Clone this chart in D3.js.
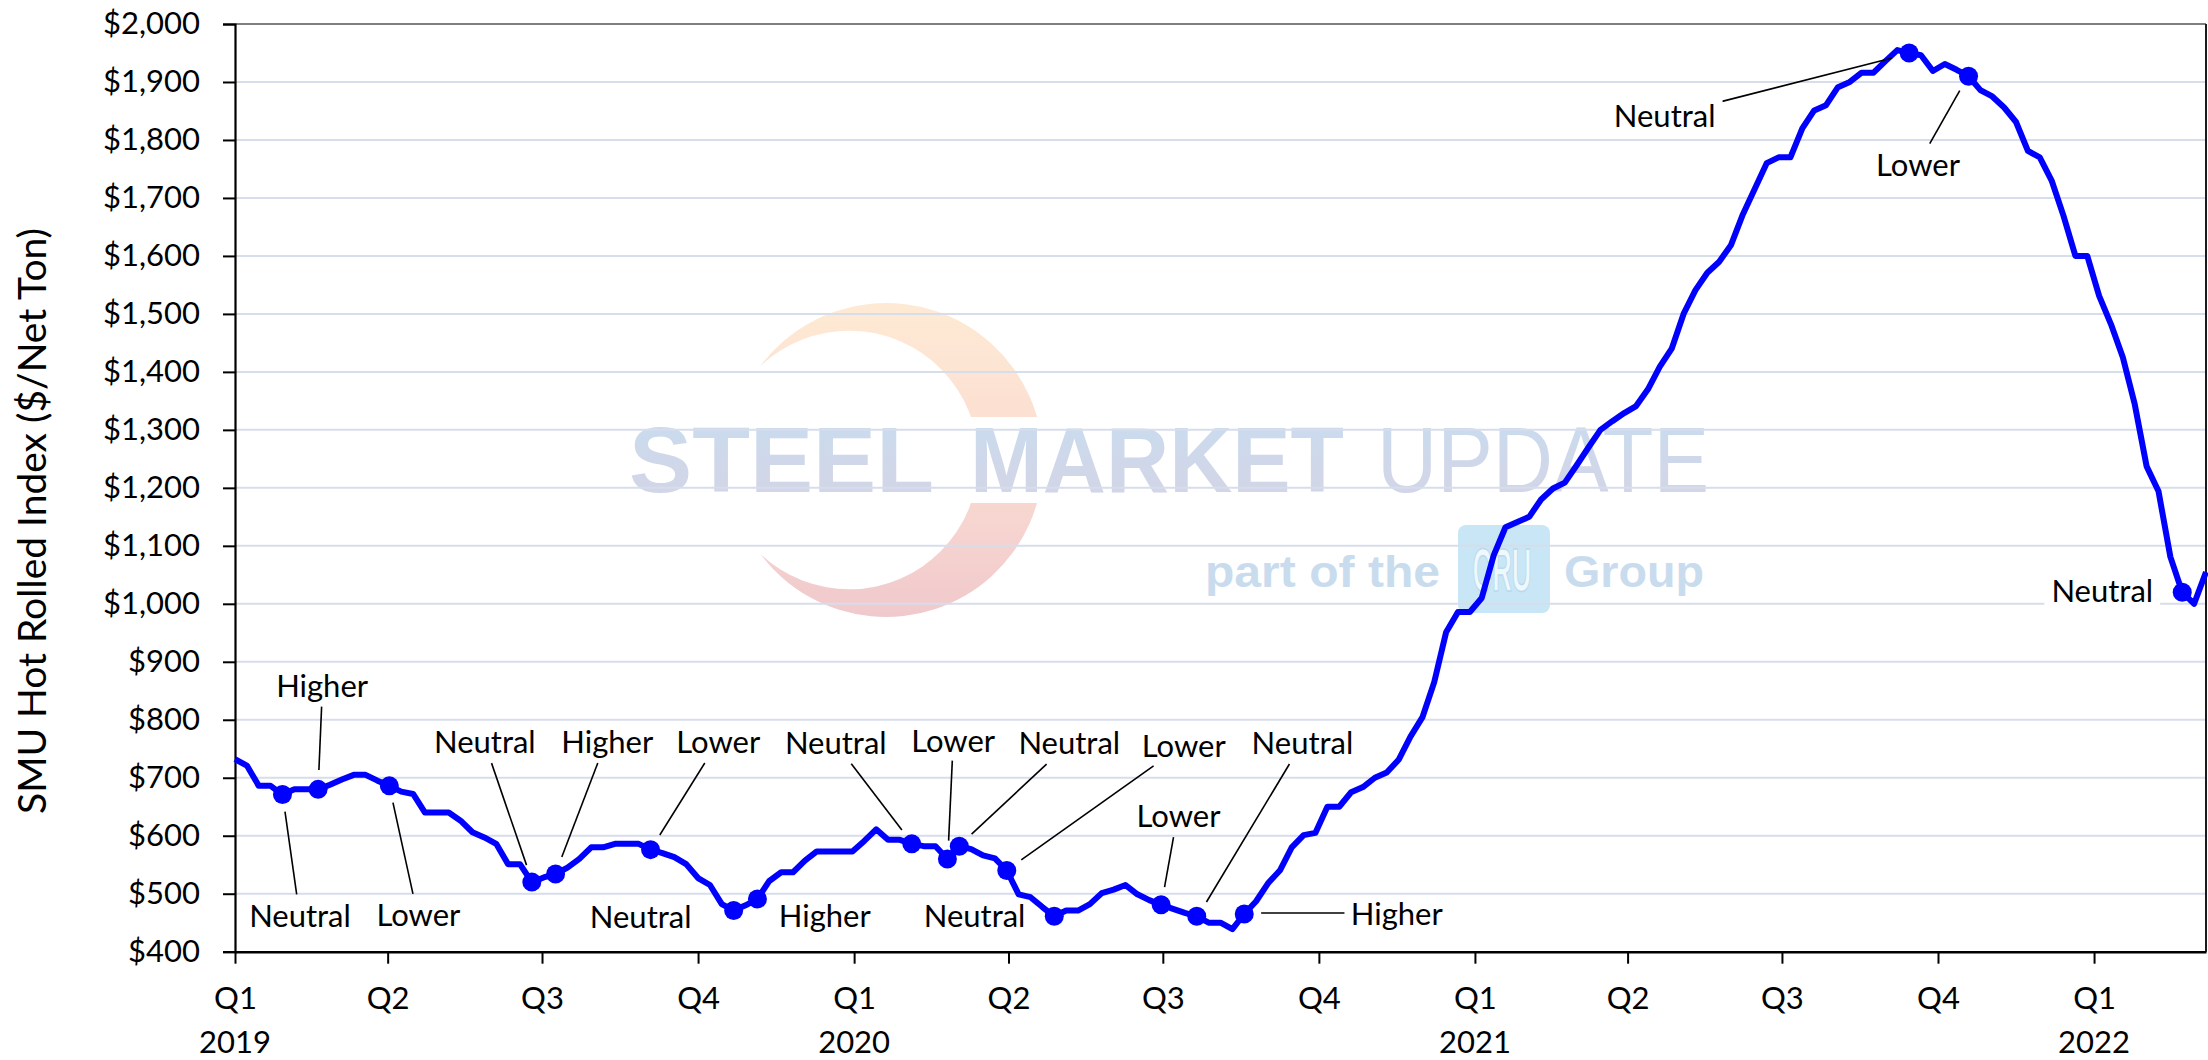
<!DOCTYPE html>
<html><head><meta charset="utf-8">
<script src="https://cdn.jsdelivr.net/npm/d3@7"></script>
<style>body{margin:0;background:#fff}svg{display:block}</style>
</head><body>
<svg id="chart" width="2208" height="1060"></svg>
<script>
// ---------------- DATA ----------------
const firstWeek = "2019-01-01";           // weekly observations (every 7 days)
const hrcIndex = [
 732,721,686,686,671,680,680,680,688,697,705,705,695,686,676,672,640,640,640,626,
 606,597,586,551,551,520,528,534,545,560,580,580,586,586,586,576,570,563,551,527,
 515,482,471,480,491,522,537,537,557,573,573,573,573,591,611,593,593,586,582,582,
 560,582,577,566,561,540,499,494,477,461,471,471,482,501,507,515,499,489,481,474,
 467,461,450,450,439,465,487,518,540,580,601,605,650,650,675,684,700,709,731,771,
 804,865,951,986,986,1010,1083,1132,1141,1150,1180,1199,1209,1239,1270,1300,1315,1329,1341,1370,
 1409,1440,1500,1541,1571,1590,1619,1672,1716,1760,1770,1770,1820,1851,1860,1891,1900,1916,1916,1936,
 1955,1950,1946,1919,1931,1921,1910,1886,1875,1856,1831,1781,1770,1730,1669,1600,1600,1531,1482,1425,
 1344,1237,1194,1081,1020,1000,1055
];
const yTickValues = [400,500,600,700,800,900,1000,1100,1200,1300,1400,1500,1600,1700,1800,1900,2000];
const quarterTickDates = ["2019-01-01","2019-04-01","2019-07-01","2019-10-01","2020-01-01","2020-04-01","2020-07-01",
  "2020-10-01","2021-01-01","2021-04-01","2021-07-01","2021-10-01","2022-01-01"];
const quarterTickLabels = ["Q1","Q2","Q3","Q4","Q1","Q2","Q3","Q4","Q1","Q2","Q3","Q4","Q1"];
const yearTickDates = ["2019-01-01","2020-01-01","2021-01-01","2022-01-01"];
const yearLabels = ["2019","2020","2021","2022"];
const sentimentWeeks = [4,7,13,25,27,35,42,44,57,60,61,65,69,78,81,85,141,146,164];
const sentimentLabels = ["Neutral","Higher","Lower","Neutral","Higher","Lower","Neutral","Higher","Neutral",
  "Lower","Neutral","Lower","Neutral","Lower","Neutral","Higher","Neutral","Lower","Neutral"];
const yAxisTitle = "SMU Hot Rolled Index ($/Net Ton)";

// ---------------- LAYOUT (label offsets from their point, px) ----------------
const labelOffsets = [[17.5,132],[4,-92],[29,140],[-47,-129],[51.7,-121],[67.7,-96.7],[-93,17.5],[67.3,27.7],
  [-76,-90],[5.7,-107.3],[110,-92],[177,-113.6],[-79.7,10.4],[17.4,-78],[105.7,-162.3],[152.5,11],
  [-244.5,74],[-50.5,99.5],[-80,10]];
const leaderOffsets = [[14.2,99.7,2.5,17],[3.5,-82.7,0.8,-19.4],[23.6,108,3.6,16.8],[-40.3,-119,-5.3,-17],
  [42.2,-111,6.2,-17],[54.2,-86.7,9.2,-14.7],null,null,[-60.5,-80,-9.9,-13.9],[4.9,-98.3,1.2,-18.3],
  [87.3,-82,12.3,-12],[146.8,-104.6,14.5,-10.6],null,[12.4,-67.7,3.4,-17.7],[92.7,-152.3,9.7,-14.3],
  [100.2,-1,16.9,-1],[-187,48.4,-17,5],[-38.8,67.5,-8.8,14.5],null];
const labelBg = [false,false,false,false,false,false,false,false,false,false,false,false,false,false,false,false,true,false,true];

// ---------------- CHART ----------------
const parse = d3.utcParse("%Y-%m-%d");
const t0 = parse(firstWeek);
const data = hrcIndex.map((v,i)=>({date:d3.utcDay.offset(t0,7*i), value:v}));
const L=235, R=2206, T=24, B=951.7;
const x = d3.scaleUtc().domain([data[0].date, data[data.length-1].date]).range([L,R]);
const y = d3.scaleLinear().domain([400,2000]).range([B,T]);
const svg = d3.select("#chart");
const FONT = "Lato, 'Open Sans', sans-serif";

// watermark
const defs = svg.append("defs");
const g1 = defs.append("linearGradient").attr("id","cres").attr("x1",0).attr("y1",0).attr("x2",0).attr("y2",1);
g1.append("stop").attr("offset","0%").attr("stop-color","#feead4");
g1.append("stop").attr("offset","50%").attr("stop-color","#fbdcd2");
g1.append("stop").attr("offset","100%").attr("stop-color","#f0c9cc");
const g2 = defs.append("linearGradient").attr("id","wtxt").attr("x1",0).attr("y1",0).attr("x2",0).attr("y2",1);
g2.append("stop").attr("offset","0%").attr("stop-color","#c8dcef");
g2.append("stop").attr("offset","100%").attr("stop-color","#d5d4e5");

const wm = svg.append("g").attr("class","watermark");
wm.append("path").attr("d","M760.3,366 A157,157 0 1 1 760.3,554 A129.3,129.3 0 1 0 760.3,366 Z").attr("fill","url(#cres)");
wm.append("rect").attr("x",930).attr("y",417).attr("width",130).attr("height",86).attr("fill","#fff");
const wmWords = [["STEEL",629,305,"900"],["MARKET",970,374,"700"],["UPDATE",1377,332,"400"]];
wmWords.forEach(w=>{
  wm.append("text").attr("x",w[1]).attr("y",492).attr("textLength",w[2]).attr("lengthAdjust","spacingAndGlyphs")
    .attr("font-family","'Liberation Sans', Arial, sans-serif").attr("font-weight",w[3]).attr("font-size",92)
    .attr("fill","url(#wtxt)").text(w[0]);
});
wm.append("text").attr("x",1205).attr("y",587).attr("textLength",235).attr("lengthAdjust","spacingAndGlyphs")
  .attr("font-family","'Liberation Sans', Arial, sans-serif").attr("font-weight",700).attr("font-size",44)
  .attr("fill","#c9dcee").text("part of the");
wm.append("rect").attr("x",1458).attr("y",525).attr("width",92).attr("height",88).attr("rx",8).attr("fill","#c8e6f5");
wm.append("text").attr("transform","translate(1502,591) scale(0.44,1)").attr("text-anchor","middle")
  .attr("font-family","'Liberation Sans', Arial, sans-serif").attr("font-weight",700).attr("font-size",62)
  .attr("fill","#eef8fd").attr("stroke","#b9d9ec").attr("stroke-width",1.5).text("CRU");
wm.append("text").attr("x",1564).attr("y",587).attr("textLength",140).attr("lengthAdjust","spacingAndGlyphs")
  .attr("font-family","'Liberation Sans', Arial, sans-serif").attr("font-weight",700).attr("font-size",44)
  .attr("fill","#c9dcee").text("Group");

// gridlines
svg.append("g").selectAll("line").data(yTickValues.filter(v=>v>400)).join("line")
  .attr("x1",L).attr("x2",R).attr("y1",d=>y(d)).attr("y2",d=>y(d))
  .attr("stroke","#d6ddeb").attr("stroke-width",2);
// plot border top/right
svg.append("line").attr("x1",L).attr("x2",R).attr("y1",y(2000)).attr("y2",y(2000)).attr("stroke","#7f7f7f").attr("stroke-width",2);
svg.append("line").attr("x1",R).attr("x2",R).attr("y1",y(2000)).attr("y2",B).attr("stroke","#1a1a1a").attr("stroke-width",2);

// y axis
const yAx = svg.append("g").attr("transform",`translate(${L},0)`)
  .call(d3.axisLeft(y).tickValues(yTickValues).tickSize(12).tickPadding(23).tickFormat(d=>"$"+d3.format(",")(d)));
yAx.select(".domain").attr("stroke","#000").attr("stroke-width",2.2);
yAx.selectAll(".tick line").attr("stroke","#000").attr("stroke-width",2);
yAx.selectAll("text").attr("font-family",FONT).attr("font-size",31).attr("fill","#000");

// x axis
const qDates = quarterTickDates.map(parse);
const xAx = svg.append("g").attr("transform",`translate(0,${B})`)
  .call(d3.axisBottom(x).tickValues(qDates).tickSize(12).tickPadding(23).tickSizeOuter(0)
    .tickFormat((d,i)=>quarterTickLabels[i]));
xAx.select(".domain").attr("stroke","#000").attr("stroke-width",2.5);
xAx.selectAll(".tick line").attr("stroke","#000").attr("stroke-width",2);
xAx.selectAll("text").attr("font-family",FONT).attr("font-size",31).attr("fill","#000");
svg.append("g").selectAll("text").data(yearTickDates).join("text")
  .attr("x",d=>x(parse(d))).attr("y",1053).attr("text-anchor","middle")
  .attr("font-family",FONT).attr("font-size",31).attr("fill","#000").text((d,i)=>yearLabels[i]);

// y axis title
svg.append("text").attr("transform","translate(46,521) rotate(-90)").attr("text-anchor","middle")
  .attr("font-family",FONT).attr("font-size",39).attr("fill","#000").text(yAxisTitle);

// series line
svg.append("path").datum(data)
  .attr("d",d3.line().x(d=>x(d.date)).y(d=>y(d.value)))
  .attr("fill","none").attr("stroke","#0000ff").attr("stroke-width",6).attr("stroke-linejoin","round");

// sentiment points + labels
const ann = svg.append("g");
sentimentWeeks.forEach((w,k)=>{
  const px = x(data[w].date), py = y(data[w].value);
  const lo = leaderOffsets[k];
  if(lo) ann.append("line").attr("x1",px+lo[0]).attr("y1",py+lo[1]).attr("x2",px+lo[2]).attr("y2",py+lo[3])
    .attr("stroke","#000").attr("stroke-width",1.6);
  const t = ann.append("text").attr("x",px+labelOffsets[k][0]).attr("y",py+labelOffsets[k][1])
    .attr("text-anchor","middle").attr("font-family",FONT).attr("font-size",31).attr("fill","#000").text(sentimentLabels[k]);
  if(labelBg[k]){
    const bb = t.node().getBBox();
    ann.insert("rect","text:last-of-type").attr("x",bb.x-7).attr("y",bb.y+2).attr("width",bb.width+14).attr("height",bb.height-4).attr("fill","#fff");
  }
});
svg.append("g").selectAll("circle").data(sentimentWeeks).join("circle")
  .attr("cx",w=>x(data[w].date)).attr("cy",w=>y(data[w].value)).attr("r",9.5).attr("fill","#0000ff");
</script>
</body></html>
